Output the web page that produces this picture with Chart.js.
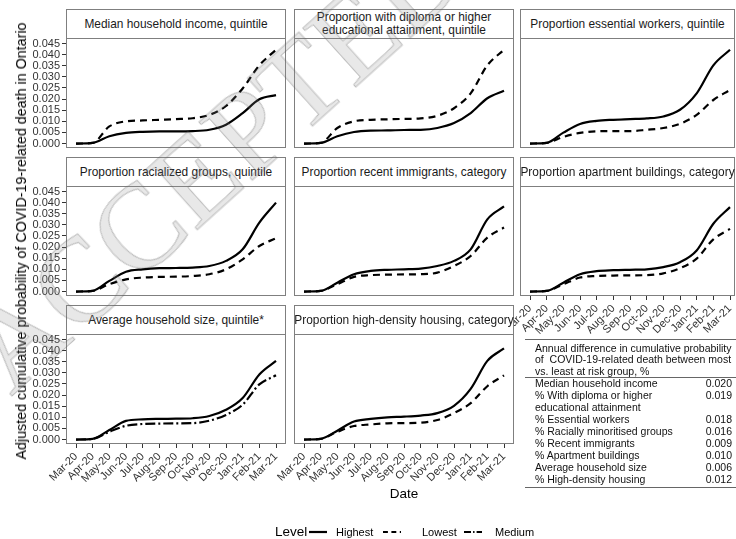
<!DOCTYPE html>
<html>
<head>
<meta charset="utf-8">
<script src="https://cdn.jsdelivr.net/npm/chart.js@4/dist/chart.umd.min.js"></script>
<style>
  html, body { margin: 0; padding: 0; background: #fff; }
  body { width: 736px; height: 539px; position: relative; overflow: hidden;
         font-family: "Liberation Sans", Arial, Helvetica, sans-serif; color: #000; }
  .panel { position: absolute; }
  .panel canvas { display: block; }
  .strip { position: absolute; box-sizing: border-box; border: 1px solid #7f7f7f; background: #fff;
           display: flex; align-items: center; justify-content: center; text-align: center;
           font-size: 11.9px; line-height: 12.6px; color: #1a1a1a; white-space: nowrap; }
  .ytitle { position: absolute; left: 21px; top: 241px; white-space: nowrap; font-size: 14.3px;
            transform: translate(-50%, -50%) rotate(-90deg); }
  .xtitle { position: absolute; left: 404px; top: 493px; transform: translate(-50%, -50%);
            font-size: 13.5px; white-space: nowrap; }
  .legend { position: absolute; top: 524px; height: 16px; left: 0; width: 736px; }
  .legend span { position: absolute; top: 0; line-height: 16px; white-space: nowrap; }
  .legend svg { position: absolute; top: 0; }
  .diff { position: absolute; left: 525px; top: 339px; width: 211px; box-sizing: border-box;
          border-top: 1.5px solid #666; border-bottom: 1.5px solid #666; font-size: 10.5px; color: #111; }
  .diff .head { padding: 3px 0 0 10px; line-height: 11.3px; border-bottom: 1.5px solid #666; }
  .diff table { border-collapse: collapse; width: 100%; margin: 0 0 2px 0; }
  .diff td { padding: 0; line-height: 11.95px; vertical-align: top; }
  .diff td.lab { padding-left: 10px; }
  .diff td.val { text-align: right; padding-right: 4px; }
  .stamp { position: absolute; left: 215px; top: 160px; white-space: nowrap; pointer-events: none;
           font-family: "Liberation Serif", "Times New Roman", serif; font-size: 120px;
           color: rgba(140,140,140,0.2); -webkit-text-stroke: 1px rgba(90,90,90,0.35);
           transform: translate(-50%, -50%) rotate(-42deg); }
</style>
</head>
<body>
<script>
// Month axis (Mar-20 .. Mar-21) and y tick values
const months = ['Mar-20','Apr-20','May-20','Jun-20','Jul-20','Aug-20','Sep-20','Oct-20','Nov-20','Dec-20','Jan-21','Feb-21','Mar-21'];
const yTicks = [0, 0.005, 0.010, 0.015, 0.020, 0.025, 0.030, 0.035, 0.040, 0.045];

// Adjusted cumulative probability at the start of each month, per level
const incomeHighest     = [0, 0.0003, 0.0033, 0.0048, 0.0053, 0.0055, 0.0055, 0.0056, 0.0062, 0.0085, 0.0137, 0.0199, 0.0218];
const incomeLowest      = [0, 0.0003, 0.0077, 0.0100, 0.0104, 0.0107, 0.0110, 0.0114, 0.0129, 0.0169, 0.0248, 0.0352, 0.0422];
const diplomaHighest    = [0, 0.0003, 0.0033, 0.0052, 0.0058, 0.0059, 0.0061, 0.0062, 0.0070, 0.0092, 0.0137, 0.0204, 0.0238];
const diplomaLowest     = [0, 0.0003, 0.0070, 0.0100, 0.0107, 0.0109, 0.0111, 0.0113, 0.0125, 0.0159, 0.0226, 0.0352, 0.0422];
const essentialHighest  = [0, 0.0003, 0.0049, 0.0088, 0.0102, 0.0107, 0.0110, 0.0113, 0.0122, 0.0152, 0.0226, 0.0352, 0.0422];
const essentialLowest   = [0, 0.0003, 0.0030, 0.0048, 0.0055, 0.0056, 0.0056, 0.0062, 0.0070, 0.0089, 0.0129, 0.0196, 0.0241];
const racializedHighest = [0, 0.0003, 0.0048, 0.0089, 0.0100, 0.0105, 0.0106, 0.0108, 0.0115, 0.0138, 0.0190, 0.0310, 0.0400];
const racializedLowest  = [0, 0.0003, 0.0033, 0.0055, 0.0063, 0.0066, 0.0067, 0.0070, 0.0078, 0.0100, 0.0145, 0.0205, 0.0240];
const immigrantHighest  = [0, 0.0003, 0.0040, 0.0078, 0.0093, 0.0098, 0.0100, 0.0103, 0.0115, 0.0138, 0.0190, 0.0325, 0.0383];
const immigrantLowest   = [0, 0.0003, 0.0033, 0.0066, 0.0074, 0.0076, 0.0077, 0.0078, 0.0085, 0.0115, 0.0160, 0.0243, 0.0288];
const apartmentHighest  = [0, 0.0003, 0.0040, 0.0078, 0.0092, 0.0096, 0.0098, 0.0100, 0.0110, 0.0132, 0.0185, 0.0305, 0.0380];
const apartmentLowest   = [0, 0.0003, 0.0033, 0.0063, 0.0070, 0.0072, 0.0073, 0.0074, 0.0082, 0.0105, 0.0148, 0.0235, 0.0282];
const householdHighest  = [0, 0.0003, 0.0043, 0.0084, 0.0091, 0.0093, 0.0094, 0.0096, 0.0106, 0.0134, 0.0187, 0.0293, 0.0354];
const householdMedium   = [0, 0.0003, 0.0035, 0.0062, 0.0070, 0.0072, 0.0073, 0.0074, 0.0085, 0.0111, 0.0157, 0.0248, 0.0289];
const densityHighest    = [0, 0.0003, 0.0040, 0.0081, 0.0093, 0.0100, 0.0103, 0.0108, 0.0119, 0.0152, 0.0228, 0.0354, 0.0410];
const densityLowest     = [0, 0.0003, 0.0035, 0.0061, 0.0068, 0.0073, 0.0074, 0.0076, 0.0088, 0.0119, 0.0164, 0.0240, 0.0289];

// Summary table: annual difference between most and least at-risk groups
const diffLabels = ['Median household income', '% With diploma or higher<br>educational attainment', '% Essential workers',
  '% Racially minoritised groups', '% Recent immigrants', '% Apartment buildings', 'Average household size', '% High-density housing'];
const diffValues = ['0.020', '0.019', '0.018', '0.016', '0.009', '0.010', '0.006', '0.012'];

// Line types for each level
const levelStyle = {
  Highest: [],
  Lowest: [7, 5],
  Medium: [10, 3, 2, 3]
};

const panels = [
  { title: 'Median household income, quintile', row: 0, col: 0, xAxis: false,
    series: [['Highest', incomeHighest], ['Lowest', incomeLowest]] },
  { title: 'Proportion with diploma or higher<br>educational attainment, quintile', row: 0, col: 1, xAxis: false,
    series: [['Highest', diplomaHighest], ['Lowest', diplomaLowest]] },
  { title: 'Proportion essential workers, quintile', row: 0, col: 2, xAxis: false,
    series: [['Highest', essentialHighest], ['Lowest', essentialLowest]] },
  { title: 'Proportion racialized groups, quintile', row: 1, col: 0, xAxis: false,
    series: [['Highest', racializedHighest], ['Lowest', racializedLowest]] },
  { title: 'Proportion recent immigrants, category', row: 1, col: 1, xAxis: false,
    series: [['Highest', immigrantHighest], ['Lowest', immigrantLowest]] },
  { title: 'Proportion apartment buildings, category', row: 1, col: 2, xAxis: true,
    series: [['Highest', apartmentHighest], ['Lowest', apartmentLowest]] },
  { title: 'Average household size, quintile*', row: 2, col: 0, xAxis: true,
    series: [['Highest', householdHighest], ['Medium', householdMedium]] },
  { title: 'Proportion high-density housing, category', row: 2, col: 1, xAxis: true,
    series: [['Highest', densityHighest], ['Lowest', densityLowest]] }
];

// Facet grid geometry
const colLeft = [66, 294, 520];
const colRight = [286, 514, 735];
const colXMax = [12.6, 12.6, 12.3];
const rowTop = [9, 157, 305];
const STRIP_H = 29;
const PLOT_H = 110;

// Panel border drawn on top of the lines, around the plotting area
const panelFrame = {
  id: 'panelFrame',
  afterDatasetsDraw(chart) {
    const { ctx, chartArea: a } = chart;
    ctx.save();
    ctx.strokeStyle = '#7f7f7f';
    ctx.lineWidth = 1;
    ctx.strokeRect(Math.round(a.left) + 0.5, Math.round(a.top) + 0.5,
                   Math.round(a.right - a.left) - 1, Math.round(a.bottom - a.top) - 1);
    ctx.restore();
  }
};

function buildPanel(p) {
  const L = colLeft[p.col], R = colRight[p.col];
  const T = rowTop[p.row] + STRIP_H, B = T + PLOT_H;
  const showY = p.col === 0;
  const padL = showY ? 66 : 40, padR = 8, padT = 14;
  const padB = p.xAxis ? 46 : 14;
  const W = (R - L) + padL + padR, H = (B - T) + padT + padB;

  const wrap = document.createElement('div');
  wrap.className = 'panel';
  wrap.style.left = (L - padL) + 'px';
  wrap.style.top = (T - padT) + 'px';
  const cv = document.createElement('canvas');
  cv.width = W; cv.height = H;
  cv.style.width = W + 'px'; cv.style.height = H + 'px';
  wrap.appendChild(cv);
  document.body.appendChild(wrap);

  const datasets = p.series.map(([level, vals]) => ({
    label: level,
    data: vals.map((v, i) => ({ x: i, y: v })),
    borderColor: '#000',
    borderWidth: 2.2,
    borderDash: levelStyle[level],
    borderCapStyle: 'butt',
    pointRadius: 0,
    fill: false,
    cubicInterpolationMode: 'monotone'
  }));

  new Chart(cv, {
    type: 'line',
    data: { datasets },
    plugins: [panelFrame],
    options: {
      responsive: false,
      animation: false,
      devicePixelRatio: 1,
      layout: { padding: { left: showY ? 0 : padL, right: padR, top: padT, bottom: p.xAxis ? 0 : padB } },
      plugins: { legend: { display: false }, tooltip: { enabled: false } },
      scales: {
        x: {
          type: 'linear', min: -0.6, max: colXMax[p.col],
          display: p.xAxis,
          afterBuildTicks: s => { s.ticks = months.map((_, i) => ({ value: i })); },
          afterFit: s => { if (p.xAxis) s.height = padB; },
          border: { display: false },
          grid: { display: true, drawOnChartArea: false, drawTicks: true, tickLength: 4, color: '#333', lineWidth: 1 },
          ticks: {
            autoSkip: false, minRotation: 45, maxRotation: 45, padding: 2,
            color: '#333', font: { family: '"Liberation Sans", Arial, sans-serif', size: 11 },
            callback: v => months[v]
          }
        },
        y: {
          type: 'linear', min: -0.002, max: 0.0475,
          display: showY,
          afterBuildTicks: s => { s.ticks = yTicks.map(v => ({ value: v })); },
          afterFit: s => { if (showY) s.width = padL; },
          border: { display: false },
          grid: { display: true, drawOnChartArea: false, drawTicks: true, tickLength: 4, color: '#333', lineWidth: 1 },
          ticks: {
            autoSkip: false, padding: 2, color: '#333',
            font: { family: '"Liberation Sans", Arial, sans-serif', size: 11 },
            callback: v => v.toFixed(3)
          }
        }
      }
    }
  });

  const strip = document.createElement('div');
  strip.className = 'strip';
  strip.style.left = L + 'px';
  strip.style.top = rowTop[p.row] + 'px';
  strip.style.width = (R - L) + 'px';
  strip.style.height = (STRIP_H + 1) + 'px';
  strip.innerHTML = p.title;
  document.body.appendChild(strip);
}

panels.forEach(buildPanel);

// Axis titles
const yt = document.createElement('div');
yt.className = 'ytitle';
yt.textContent = 'Adjusted cumulative probability of COVID-19-related death in Ontario';
document.body.appendChild(yt);
const xt = document.createElement('div');
xt.className = 'xtitle';
xt.textContent = 'Date';
document.body.appendChild(xt);

// Summary table in the empty facet slot
const diff = document.createElement('div');
diff.className = 'diff';
let rows = '';
diffLabels.forEach((lab, i) => {
  rows += '<tr><td class="lab">' + lab + '</td><td class="val">' + diffValues[i] + '</td></tr>';
});
diff.innerHTML = '<div class="head">Annual difference in cumulative probability<br>of&nbsp; COVID-19-related death between most<br>vs. least at risk group, %</div><table>' + rows + '</table>';
document.body.appendChild(diff);

// Legend for the line types
const legend = document.createElement('div');
legend.className = 'legend';
const keyItems = [
  { level: 'Highest', keyX: 309, textX: 336 },
  { level: 'Lowest', keyX: 383, textX: 422 },
  { level: 'Medium', keyX: 464, textX: 495 }
];
let lg = '<span style="left:275px;font-size:13.5px;">Level</span>';
keyItems.forEach(k => {
  const dash = levelStyle[k.level].length ? levelStyle[k.level].map(d => d * 0.7).join(' ') : 'none';
  lg += '<svg width="18" height="16" style="left:' + k.keyX + 'px"><line x1="0" y1="8" x2="18" y2="8" stroke="#000" stroke-width="2.2" stroke-dasharray="' + dash + '"/></svg>';
  lg += '<span style="left:' + k.textX + 'px;font-size:11px;">' + k.level + '</span>';
});
legend.innerHTML = lg;
document.body.appendChild(legend);

// Status stamp across the upper-left facets
const stamp = document.createElement('div');
stamp.className = 'stamp';
stamp.textContent = 'ACCEPTED';
document.body.appendChild(stamp);
</script>
</body>
</html>
